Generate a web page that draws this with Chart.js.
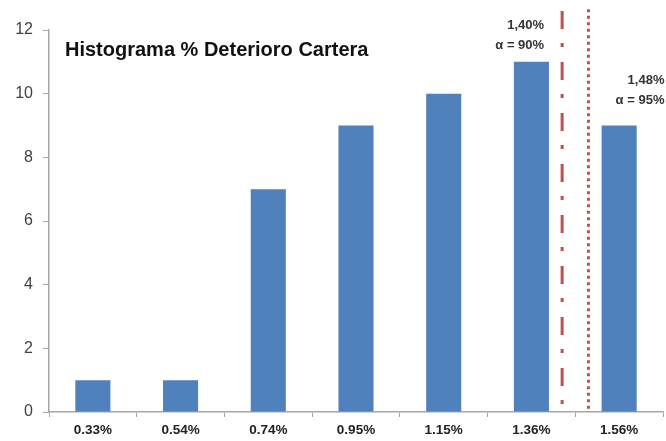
<!DOCTYPE html>
<html>
<head>
<meta charset="utf-8">
<script src="https://cdn.jsdelivr.net/npm/chart.js@4.4.0/dist/chart.umd.min.js"></script>
<style>
  html, body { margin: 0; padding: 0; background: #fff; }
  #wrap { position: relative; width: 666px; height: 441px; }
</style>
</head>
<body>
<div id="wrap"><canvas id="chart" width="666" height="441"></canvas></div>
<script>
const categories = ['0.33%', '0.54%', '0.74%', '0.95%', '1.15%', '1.36%', '1.56%'];
const counts = [1, 1, 7, 9, 10, 11, 9];
// cut-off lines, in category units (5 = 1.36%, 6 = 1.56%)
const cutPositions = [5.35, 5.65];
const cutValues = ['1,40%', '1,48%'];
const cutAlphas = ['α = 90%', 'α = 95%'];
const chartTitle = 'Histograma % Deterioro Cartera';

const RED = '#C0504D';
const BLUE = '#4F81BD';
const AXIS = '#A6A6A6';

// title + cut-off labels drawn on top of the plot
const textPlugin = {
  id: 'texts',
  afterDatasetsDraw(chart) {
    const ctx = chart.ctx;
    const area = chart.chartArea;
    const x2 = chart.scales.x2;
    ctx.save();
    ctx.fillStyle = '#111';
    ctx.textBaseline = 'middle';
    ctx.font = 'bold 20px "Liberation Sans", Arial, sans-serif';
    ctx.textAlign = 'left';
    ctx.fillText(chartTitle, area.left + 16, area.top + 20);

    ctx.font = 'bold 13px "Liberation Sans", Arial, sans-serif';
    ctx.fillStyle = '#333';
    ctx.textAlign = 'right';
    // first label sits left of its line, second to the right
    let px = x2.getPixelForValue(cutPositions[0]);
    ctx.fillText(cutValues[0], px - 18, area.top - 5);
    ctx.fillText(cutAlphas[0], px - 18, area.top + 15);
    px = x2.getPixelForValue(cutPositions[1]);
    ctx.fillText(cutValues[1], px + 76, area.top + 50);
    ctx.fillText(cutAlphas[1], px + 76, area.top + 70);
    ctx.restore();
  }
};

const ctx = document.getElementById('chart').getContext('2d');
new Chart(ctx, {
  type: 'bar',
  data: {
    labels: categories,
    datasets: [
      {
        data: counts,
        backgroundColor: BLUE,
        borderWidth: 0,
        grouped: false,
        categoryPercentage: 1,
        barPercentage: 0.4,
        order: 2
      },
      {
        type: 'line',
        xAxisID: 'x2',
        data: [{ x: cutPositions[0], y: 12.6 }, { x: cutPositions[0], y: 0 }],
        borderColor: RED,
        borderWidth: 3,
        borderDash: [18, 14, 4, 15],
        pointRadius: 0,
        clip: false,
        order: 1
      },
      {
        type: 'line',
        xAxisID: 'x2',
        data: [{ x: cutPositions[1], y: 12.65 }, { x: cutPositions[1], y: 0 }],
        borderColor: RED,
        borderWidth: 3,
        borderDash: [3, 3.5],
        pointRadius: 0,
        clip: false,
        order: 1
      }
    ]
  },
  options: {
    responsive: false,
    animation: false,
    layout: { padding: { top: 30, right: 3, left: 0, bottom: 0 } },
    plugins: {
      legend: { display: false },
      tooltip: { enabled: false }
    },
    scales: {
      x: {
        offset: true,
        grid: {
          offset: true,
          drawOnChartArea: false,
          drawTicks: true,
          tickLength: 5,
          color: AXIS
        },
        border: { color: AXIS, width: 1.5 },
        ticks: {
          color: '#222',
          padding: 5,
          maxRotation: 0,
          autoSkip: false,
          font: { family: '"Liberation Sans", Arial, sans-serif', size: 13.5, weight: 'bold' }
        },
        afterFit(scale) { scale.height = 29; }
      },
      x2: {
        type: 'linear',
        display: false,
        offset: false,
        min: -0.5,
        max: 6.5
      },
      y: {
        min: 0,
        max: 12,
        ticks: {
          stepSize: 2,
          color: '#404040',
          padding: 10,
          font: { family: '"Liberation Sans", Arial, sans-serif', size: 16 }
        },
        grid: {
          drawOnChartArea: false,
          drawTicks: true,
          tickLength: 6,
          color: AXIS
        },
        border: { color: AXIS, width: 1.5 },
        afterFit(scale) { scale.width = 49; }
      }
    }
  },
  plugins: [textPlugin]
});
</script>
</body>
</html>
